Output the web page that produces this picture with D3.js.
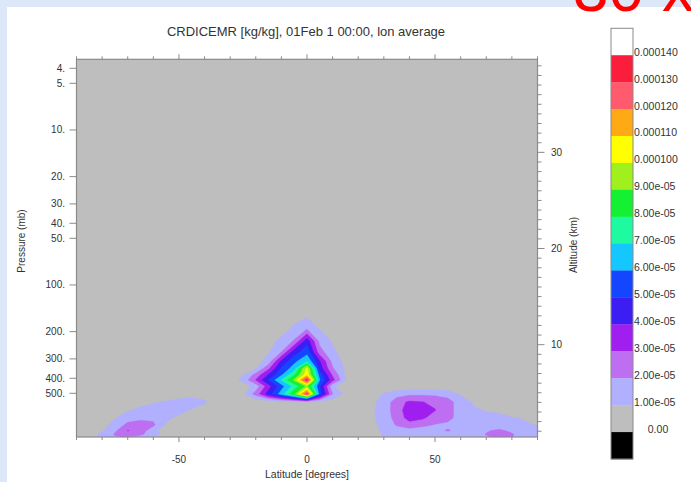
<!DOCTYPE html>
<html><head><meta charset="utf-8">
<script src="https://cdn.jsdelivr.net/npm/d3@7"></script>
<style>
html,body{margin:0;padding:0;background:#dce8f7;overflow:hidden;}
svg{display:block;}
text{font-family:"Liberation Sans", Arial, Helvetica, sans-serif;}
</style></head><body>
<svg id="chart" width="691" height="482"></svg>
<script>
// ---------------- data ----------------
const latitudes = [-90,-85,-80,-75,-70,-65,-60,-55,-50,-45,-40,-35,-30,-25,-20,-15,-10,-5,0,5,10,15,20,25,30,35,40,45,50,55,60,65,70,75,80,85,90];
const pressureLevels = [3.5,120,150,190,230,270,310,345,378,410,450,505,570,640,720,800,870,920,957];
// CRDICEMR values in units of 1e-5 kg/kg; rows follow pressureLevels, columns follow latitudes
const values = [
 [0,0,0,0,0,0,0,0,0,0,0, 0,0,0,0,0,0,0,0,0,0,0,0, 0,0,0,0,0,0,0,0,0,0,0,0,0,0],
 [0,0,0,0,0,0,0,0,0,0,0, 0,0,0,0,0,0,0,0,0,0,0,0, 0,0,0,0,0,0,0,0,0,0,0,0,0,0],
 [0,0,0,0,0,0,0,0,0,0,0, 0,0,0,0,0,0.2,0.4,0.6,0.4,0.2,0,0, 0,0,0,0,0,0,0,0,0,0,0,0,0,0],
 [0,0,0,0,0,0,0,0,0,0,0, 0,0,0,0,0.2,0.5,1.2,1.8,0.9,0.4,0.1,0, 0,0,0,0,0,0,0,0,0,0,0,0,0,0],
 [0,0,0,0,0,0,0,0,0,0,0, 0,0,0,0.2,0.6,1.3,2.1,4.6,1.7,0.9,0.3,0.1, 0,0,0,0,0,0,0,0,0,0,0,0,0,0],
 [0,0,0,0,0,0,0,0,0,0,0, 0,0,0.2,0.4,0.9,2.0,4.5,5.6,2.4,1.2,0.5,0.2, 0,0,0,0,0,0,0,0,0,0,0,0,0,0],
 [0,0,0,0,0,0,0,0,0,0,0, 0,0.1,0.3,0.6,1.4,4.2,5.7,6.9,4.05,1.7,0.7,0.3, 0.1,0,0,0,0,0,0,0,0,0,0,0,0,0],
 [0,0,0,0,0,0,0,0,0,0,0, 0,0.2,0.4,0.9,2.8,5.1,6.5,10.3,4.5,2.1,0.8,0.3, 0.1,0,0,0,0,0,0,0,0,0,0,0,0,0],
 [0,0,0,0,0,0,0,0,0,0,0, 0.1,0.4,0.9,2.3,4.05,5.8,7.8,10.6,5.5,2.8,0.9,0.4, 0.1,0,0,0,0,0,0,0,0,0,0,0,0,0],
 [0,0,0,0,0,0,0,0,0,0,0, 0.2,0.5,1.3,3.05,5.05,7.05,9.2,13.6,6.05,3.4,1.05,0.4, 0.2,0,0,0,0,0,0,0,0,0,0,0,0,0],
 [0.1,0.1,0.1,0.1,0.1,0.1,0.1,0.1,0.1,0.1,0.1, 0.1,0.2,0.4,1.4,3.6,5.6,7.4,9.2,5.05,1.2,0.4,0.2, 0.2,0.3,0.3,0.3,0.3,0.3,0.3,0.2,0.2,0.1,0.1,0.1,0.1,0.1],
 [0.1,0.1,0.1,0.1,0.2,0.2,0.3,0.4,0.6,0.7,0.7, 0.4,0.3,0.8,2.4,4.5,6.5,8.8,13.2,5.5,2.05,0.7,0.3, 0.6,1.1,1.6,1.8,1.8,1.8,1.6,0.9,0.5,0.3,0.2,0.2,0.2,0.2],
 [0.1,0.1,0.2,0.3,0.5,0.7,0.9,1.1,1.3,1.4,1.1, 0.6,0.3,0.3,0.3,0.3,0.5,0.7,0.8,0.6,0.4,0.3,0.3, 0.7,1.4,2.5,3.2,3.05,2.7,2.4,1.5,0.9,0.6,0.4,0.3,0.3,0.3],
 [0.1,0.2,0.3,0.6,0.9,1.2,1.5,1.5,1.3,0.95,0.6, 0.3,0.2,0.2,0.2,0.2,0.2,0.2,0.2,0.2,0.2,0.2,0.3, 0.8,1.5,2.5,3.6,3.4,3.05,2.4,1.5,1.1,0.95,0.85,0.6,0.5,0.4],
 [0.2,0.3,0.6,0.95,1.5,1.8,1.8,1.2,0.8,0.5,0.3, 0.2,0.2,0.2,0.2,0.2,0.2,0.2,0.2,0.2,0.2,0.2,0.3, 0.8,1.4,2.4,3.4,3.2,2.5,2.3,1.6,1.3,1.2,1.2,1.05,0.95,0.6],
 [0.3,0.5,0.7,1.3,2.3,2.4,2.2,0.9,0.6,0.3,0.2, 0.1,0.2,0.2,0.2,0.2,0.2,0.2,0.2,0.2,0.2,0.2,0.3, 0.7,1.3,2.1,2.6,2.2,1.95,1.8,1.6,1.5,1.4,1.3,1.2,1.1,0.95],
 [0.3,0.6,0.9,1.8,3.05,2.6,1.3,0.5,0.4,0.2,0.1, 0.1,0.2,0.2,0.2,0.2,0.2,0.2,0.2,0.2,0.2,0.2,0.3, 0.6,1.2,1.5,1.6,1.6,1.7,2.1,1.6,1.6,1.9,2.2,1.8,1.4,1.3],
 [0.3,0.6,1.2,2.1,2.5,2.2,1.4,0.6,0.3,0.2,0.1, 0.1,0.2,0.2,0.2,0.2,0.2,0.2,0.2,0.2,0.2,0.2,0.3, 0.5,1.1,1.4,1.4,1.5,1.5,1.6,1.5,1.6,2.05,2.3,2.1,1.5,1.4],
 [0.3,0.6,1.2,1.9,2.1,1.6,0.9,0.5,0.3,0.2,0.1, 0.1,0.2,0.2,0.2,0.2,0.2,0.2,0.2,0.2,0.2,0.2,0.3, 0.5,1.05,1.3,1.4,1.4,1.4,1.5,1.5,1.6,1.9,2.2,2.05,1.5,1.4]
];
// contour levels (1e-5 kg/kg) and fill colours for values >= each level
const thresholds = [1,2,3,4,5,6,7,8,9,10,11,12,13,14];
const levelColors = ["#b0b0ff","#be6ef0","#a01ef0","#3c1ef5","#1446ff","#14c8ff","#1efaa0","#14f032","#a0f01e","#ffff00","#ffaa14","#ff5a6e","#fa1e3c","#ffffff"];
const baseColor = "#bebebe";
// colour bar, top to bottom
const colorbarColors = ["#ffffff","#fa1e3c","#ff5a6e","#ffaa14","#ffff00","#a0f01e","#14f032","#1efaa0","#14c8ff","#1446ff","#3c1ef5","#a01ef0","#be6ef0","#b0b0ff","#bebebe","#000000"];
const colorbarLabels = ["0.000140","0.000130","0.000120","0.000110","0.000100","9.00e-05","8.00e-05","7.00e-05","6.00e-05","5.00e-05","4.00e-05","3.00e-05","2.00e-05","1.00e-05","0.00"];
const pressureTicks = [4,5,10,20,30,40,50,100,200,300,400,500];
const pressureTickLabels = ["4.","5.","10.","20.","30.","40.","50.","100.","200.","300.","400.","500."];
const latMinorTicks = [-90,-80,-70,-60,-50,-40,-30,-20,-10,0,10,20,30,40,50,60,70,80,90];
const latMajorTicks = [-50,0,50];
const altMinorTicks = [1,2,3,4,5,6,7,8,9,11,12,13,14,15,16,17,18,19,21,22,23,24,25,26,27,28,29,31,32,33,34,35,36,37,38,39];
const altMajorTicks = [10,20,30];
const titleText = "CRDICEMR [kg/kg], 01Feb 1 00:00, lon average";

// ---------------- drawing ----------------
const svg = d3.select("#chart");
const W = 691, H = 482;
svg.append("rect").attr("width", W).attr("height", H).attr("fill", "#dce8f7");
svg.append("rect").attr("x", 7).attr("y", 7).attr("width", W - 7).attr("height", H - 7).attr("fill", "#ffffff");
svg.append("text").attr("x", 573).attr("y", 11).attr("font-size", 64).attr("fill", "#ff0000").text("30 x");

const X0 = 76.5, X1 = 537.5, Y0 = 59.3, Y1 = 437;
const x = d3.scaleLinear().domain([-90, 90]).range([X0, X1]);
const y = d3.scaleLog().domain([3.5, 957]).range([Y0, Y1]);
const altY = z => y(1013.25 * Math.exp(-z / 7));

svg.append("defs").append("clipPath").attr("id", "plotclip")
  .append("rect").attr("x", X0).attr("y", Y0).attr("width", X1 - X0).attr("height", Y1 - Y0);

svg.append("rect").attr("x", X0).attr("y", Y0).attr("width", X1 - X0).attr("height", Y1 - Y0).attr("fill", baseColor);

const nx = latitudes.length, ny = pressureLevels.length;
const colX = latitudes.map(d => x(d));
const rowY = pressureLevels.map(d => y(d));
function interp(arr, s) {
  s = Math.max(0, Math.min(arr.length - 1, s));
  const i = Math.min(arr.length - 2, Math.floor(s));
  const f = s - i;
  return arr[i] + f * (arr[i + 1] - arr[i]);
}
const proj = d3.geoTransform({
  point(px, py) { this.stream.point(interp(colX, px - 0.5), interp(rowY, py - 0.5)); }
});
const path = d3.geoPath(proj);
const contours = d3.contours().size([nx, ny]).thresholds(thresholds)(values.flat());

svg.append("g").attr("clip-path", "url(#plotclip)")
  .selectAll("path").data(contours).join("path")
  .attr("d", path)
  .attr("fill", (d, i) => levelColors[i])
  .attr("fill-rule", "evenodd")
  .attr("stroke", (d, i) => levelColors[i])
  .attr("stroke-width", 0.3);

svg.append("rect").attr("x", X0).attr("y", Y0).attr("width", X1 - X0).attr("height", Y1 - Y0)
  .attr("fill", "none").attr("stroke", "#8a8a8a").attr("stroke-width", 1.2);

const tickColor = "#8a8a8a", textColor = "#333";
const g = svg.append("g").attr("stroke", tickColor).attr("stroke-width", 1);
latMinorTicks.forEach(v => {
  const big = latMajorTicks.includes(v);
  const L = big ? 5 : 3;
  g.append("line").attr("x1", x(v)).attr("x2", x(v)).attr("y1", Y1).attr("y2", Y1 + L);
  g.append("line").attr("x1", x(v)).attr("x2", x(v)).attr("y1", Y0).attr("y2", Y0 - L);
});
pressureTicks.forEach(v => {
  g.append("line").attr("x1", X0 - 7).attr("x2", X0).attr("y1", y(v)).attr("y2", y(v));
});
altMinorTicks.forEach(v => {
  g.append("line").attr("x1", X1).attr("x2", X1 + 4).attr("y1", altY(v)).attr("y2", altY(v));
});
altMajorTicks.forEach(v => {
  g.append("line").attr("x1", X1).attr("x2", X1 + 7).attr("y1", altY(v)).attr("y2", altY(v));
});

const t = svg.append("g").attr("fill", textColor).attr("font-size", 10);
latMajorTicks.forEach(v => {
  t.append("text").attr("x", x(v)).attr("y", 462.5).attr("text-anchor", "middle").text(v);
});
pressureTicks.forEach((v, i) => {
  t.append("text").attr("x", 65).attr("y", y(v)).attr("dy", "0.35em").attr("text-anchor", "end").text(pressureTickLabels[i]);
});
altMajorTicks.forEach(v => {
  t.append("text").attr("x", 551).attr("y", altY(v)).attr("dy", "0.35em").text(v);
});
t.append("text").attr("x", (X0 + X1) / 2).attr("y", 478).attr("text-anchor", "middle").attr("font-size", 10.5).text("Latitude [degrees]");
t.append("text").attr("transform", "translate(25,241) rotate(-90)").attr("text-anchor", "middle").attr("font-size", 10).text("Pressure (mb)");
t.append("text").attr("transform", "translate(577,245) rotate(-90)").attr("text-anchor", "middle").attr("font-size", 10).text("Altitude (km)");
svg.append("text").attr("x", 306).attr("y", 35.5).attr("text-anchor", "middle").attr("font-size", 13).attr("fill", textColor).text(titleText);

const cb = d3.scaleBand().domain(d3.range(colorbarColors.length)).range([28.3, 459]);
const cbX = 611, cbW = 22;
svg.append("g").selectAll("rect").data(colorbarColors).join("rect")
  .attr("x", cbX).attr("y", (d, i) => cb(i)).attr("width", cbW).attr("height", cb.bandwidth() + 0.3)
  .attr("fill", d => d);
svg.append("rect").attr("x", cbX).attr("y", 28.3).attr("width", cbW).attr("height", 459 - 28.3)
  .attr("fill", "none").attr("stroke", "#8a8a8a").attr("stroke-width", 1);
svg.append("g").attr("fill", textColor).attr("font-size", 10.5)
  .selectAll("text").data(colorbarLabels).join("text")
  .attr("x", (d, i) => i === colorbarLabels.length - 1 ? 658 : 634)
  .attr("text-anchor", (d, i) => i === colorbarLabels.length - 1 ? "middle" : "start")
  .attr("y", (d, i) => cb(i) + cb.bandwidth() + 0.5)
  .text(d => d);
</script>
</body></html>
